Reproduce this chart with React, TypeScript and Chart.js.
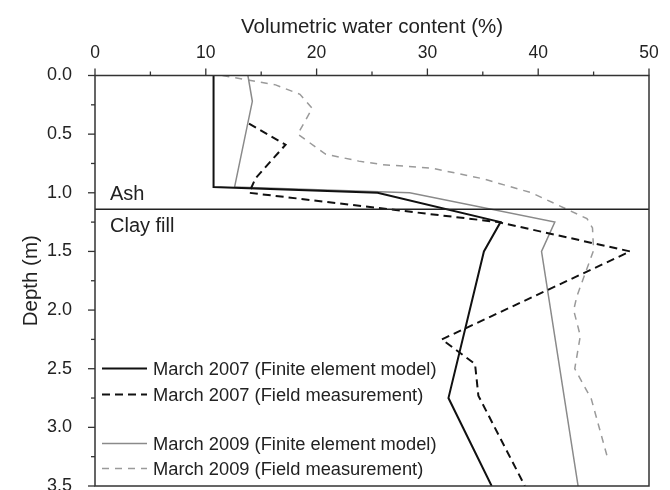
import { useEffect, useRef } from 'react';
import { Chart, registerables } from 'chart.js';

Chart.register(...registerables);

const FONT = '"Liberation Sans", Arial, Helvetica, sans-serif';
const TEXT = '#222';

// Axis ticks
const xTickValues = [0, 10, 20, 30, 40, 50];
const yTickValues = [0.0, 0.5, 1.0, 1.5, 2.0, 2.5, 3.0, 3.5];

// Series: [volumetric water content (%), depth (m)]
const fem2007: [number, number][] = [
  [10.7, 0], [10.7, 0.95], [25.5, 1.0], [36.6, 1.25], [35.1, 1.5], [31.9, 2.75], [35.8, 3.5],
];
const field2007: [number, number][] = [
  [13.9, 0.41], [17.2, 0.59], [14.5, 0.875], [13.9, 1.0], [36.4, 1.25], [48.3, 1.5],
  [31.3, 2.25], [34.3, 2.46], [34.6, 2.73], [38.8, 3.5],
];
const fem2009: [number, number][] = [
  [13.8, 0], [14.2, 0.22], [12.6, 0.95], [28.4, 1.0], [41.5, 1.25], [40.3, 1.5], [43.6, 3.5],
];
const field2009: [number, number][] = [
  [11.5, 0], [16.3, 0.08], [18.5, 0.16], [19.6, 0.28], [18.3, 0.5], [20.8, 0.67], [23.8, 0.73],
  [26.0, 0.76], [30.4, 0.79], [35.0, 0.88], [39.4, 1.0], [44.4, 1.22], [44.9, 1.3], [45.0, 1.49],
  [43.5, 1.88], [43.2, 2.0], [43.8, 2.22], [43.3, 2.5], [44.8, 2.76], [46.2, 3.24],
];

const layerBoundary = 1.14;
const layerLabels = ['Ash', 'Clay fill'];

const seriesNames = [
  'March 2007 (Finite element model)',
  'March 2007 (Field measurement)',
  'March 2009 (Finite element model)',
  'March 2009 (Field measurement)',
];
const seriesColors = ['#111', '#111', '#8a8a8a', '#9a9a9a'];
const seriesWidths = [2, 2, 1.5, 1.5];
const seriesDashes: number[][] = [[], [8, 5], [], [7, 6]];

const toPts = (arr: [number, number][]) => arr.map(([x, y]) => ({ x, y }));

const decor = {
  id: 'decor',
  afterDraw(chart: any) {
    const { ctx, chartArea: a, scales } = chart;
    const xs = scales.x;
    const ys = scales.y;
    ctx.save();

    // layer boundary
    const yb = ys.getPixelForValue(layerBoundary);
    ctx.strokeStyle = '#222';
    ctx.lineWidth = 1.5;
    ctx.setLineDash([]);
    ctx.beginPath();
    ctx.moveTo(a.left, yb);
    ctx.lineTo(a.right, yb);
    ctx.stroke();

    // frame
    ctx.lineWidth = 1.5;
    ctx.strokeStyle = '#333';
    ctx.strokeRect(a.left, a.top, a.right - a.left, a.bottom - a.top);

    // tick marks
    ctx.lineWidth = 1.3;
    for (let v = 0; v <= 50 + 1e-6; v += 5) {
      const px = xs.getPixelForValue(v);
      const major = Math.abs(v % 10) < 1e-6;
      ctx.beginPath();
      ctx.moveTo(px, a.top);
      ctx.lineTo(px, a.top - (major ? 7 : 4));
      ctx.stroke();
    }
    for (let i = 0; i <= 14; i++) {
      const v = i * 0.25;
      const py = ys.getPixelForValue(v);
      const major = i % 2 === 0;
      ctx.beginPath();
      ctx.moveTo(a.left, py);
      ctx.lineTo(a.left - (major ? 7 : 4), py);
      ctx.stroke();
    }

    // layer labels
    ctx.fillStyle = TEXT;
    ctx.font = `20px ${FONT}`;
    ctx.textAlign = 'left';
    ctx.textBaseline = 'alphabetic';
    ctx.fillText(layerLabels[0], a.left + 15, yb - 9);
    ctx.fillText(layerLabels[1], a.left + 15, yb + 23);

    // axis titles
    ctx.font = `20.5px ${FONT}`;
    ctx.textAlign = 'center';
    ctx.fillText('Volumetric water content (%)', (a.left + a.right) / 2, 33);
    ctx.save();
    ctx.translate(36.5, (a.top + a.bottom) / 2);
    ctx.rotate(-Math.PI / 2);
    ctx.fillText('Depth (m)', 0, 0);
    ctx.restore();

    // legend
    const rows = [368.5, 394.5, 443.5, 468.5];
    ctx.font = `18.3px ${FONT}`;
    ctx.textAlign = 'left';
    ctx.textBaseline = 'middle';
    for (let i = 0; i < 4; i++) {
      ctx.strokeStyle = seriesColors[i];
      ctx.lineWidth = seriesWidths[i];
      ctx.setLineDash(seriesDashes[i]);
      ctx.beginPath();
      ctx.moveTo(a.left + 7, rows[i]);
      ctx.lineTo(a.left + 52, rows[i]);
      ctx.stroke();
      ctx.setLineDash([]);
      ctx.fillStyle = TEXT;
      ctx.fillText(seriesNames[i], a.left + 58, rows[i] + 1);
    }
    ctx.restore();
  },
};

export default function App() {
  const ref = useRef<HTMLCanvasElement | null>(null);
  useEffect(() => {
    if (!ref.current) return;
    const data = [fem2007, field2007, fem2009, field2009];
    const chart = new Chart(ref.current, {
      type: 'scatter',
      data: {
        datasets: data.map((d, i) => ({
          label: seriesNames[i],
          data: toPts(d),
          showLine: true,
          borderColor: seriesColors[i],
          borderWidth: seriesWidths[i],
          borderDash: seriesDashes[i],
          pointRadius: 0,
          fill: false,
          tension: 0,
        })),
      },
      options: {
        responsive: false,
        animation: false,
        layout: { padding: { left: 0, top: 0, right: 21, bottom: 4 } },
        plugins: { legend: { display: false }, tooltip: { enabled: false } },
        scales: {
          x: {
            type: 'linear',
            position: 'top',
            min: 0,
            max: 50,
            afterBuildTicks: (s: any) => { s.ticks = xTickValues.map((v) => ({ value: v })); },
            afterFit: (s: any) => { s.height = 75.5; s.paddingLeft = 0; s.paddingRight = 0; },
            grid: { display: false, drawTicks: false, tickLength: 0 },
            border: { display: false },
            ticks: {
              padding: 12,
              color: TEXT,
              font: { family: FONT, size: 17.5 },
              maxRotation: 0,
              autoSkip: false,
              callback: (v: any) => String(v),
            },
          },
          y: {
            type: 'linear',
            reverse: true,
            min: 0,
            max: 3.5,
            afterBuildTicks: (s: any) => { s.ticks = yTickValues.map((v) => ({ value: v })); },
            afterFit: (s: any) => { s.width = 95; s.paddingTop = 0; s.paddingBottom = 0; },
            grid: { display: false, drawTicks: false, tickLength: 0 },
            border: { display: false },
            ticks: {
              padding: 23,
              color: TEXT,
              font: { family: FONT, size: 18 },
              autoSkip: false,
              callback: (v: any) => Number(v).toFixed(1),
            },
          },
        },
      },
      plugins: [decor],
    });
    return () => chart.destroy();
  }, []);
  return (
    <div style={{ position: 'fixed', left: 0, top: 0, width: 670, height: 490, background: '#fff' }}>
      <canvas ref={ref} width={670} height={490} />
    </div>
  );
}
